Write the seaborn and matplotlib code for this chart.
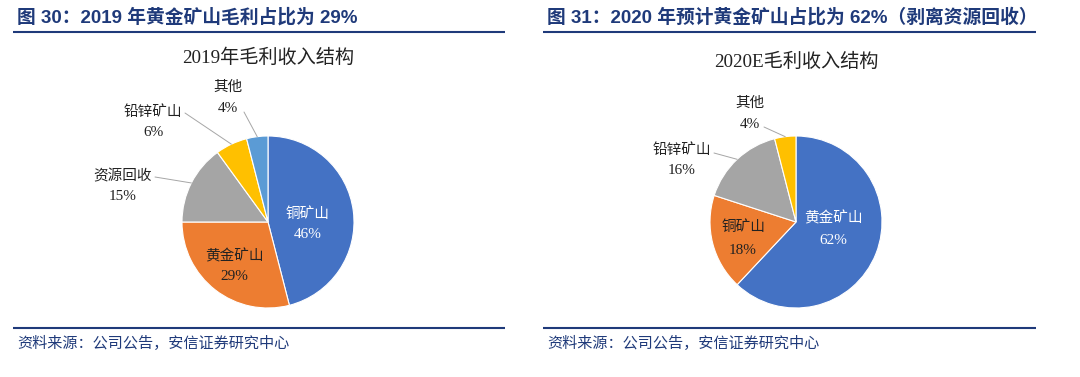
import numpy as np
import matplotlib
matplotlib.use("Agg")
import matplotlib.pyplot as plt
import seaborn as sns

sns.set_theme(style="white")
plt.rcParams['font.family'] = ['Noto Sans CJK SC', 'DejaVu Sans']

# ---- data ----
left_labels = ["铜矿山", "黄金矿山", "资源回收", "铅锌矿山", "其他"]
left_values = [46, 29, 15, 6, 4]
right_labels = ["黄金矿山", "铜矿山", "铅锌矿山", "其他"]
right_values = [62, 18, 16, 4]

header_left = "图 30：2019 年黄金矿山毛利占比为 29%"
header_right = "图 31：2020 年预计黄金矿山占比为 62%（剥离资源回收）"
title_left = "2019年毛利收入结构"
title_right = "2020E毛利收入结构"
source = "资料来源：公司公告，安信证券研究中心"

pal = ["#4472C4", "#ED7D31", "#A5A5A5", "#FFC000", "#5B9BD5"]
navy = "#1F3A7A"

W, H = 1080, 377
fig = plt.figure(figsize=(W / 100, H / 100), dpi=100)
ax = fig.add_axes([0, 0, 1, 1])


def Y(py):
    return H - py


# ---- headers / rules / sources ----
for x0, x1, head in [(13, 505, header_left), (543, 1036, header_right)]:
    ax.text(x0 + 4, Y(17), head, fontsize=13.5, fontweight="bold", color=navy,
            ha="left", va="center", family=["Liberation Sans", "Noto Sans CJK SC"])
    ax.plot([x0, x1], [Y(32), Y(32)], color=navy, lw=1.5, solid_capstyle="butt")
    ax.plot([x0, x1], [Y(328), Y(328)], color=navy, lw=1.5, solid_capstyle="butt")
    ax.text(x0 + 4, Y(343), source, fontsize=10.9, color=navy, style="italic",
            ha="left", va="center")


def draw_pie(values, labels, colors, cx, cy, r, title, tx, ty, lab_pos, leaders, inside_white):
    wedges, _ = ax.pie(values, colors=colors, startangle=90, counterclock=False,
                       center=(cx, Y(cy)), radius=r, frame=True,
                       wedgeprops=dict(edgecolor="white", linewidth=0.8))
    ax.text(tx, Y(ty), title, fontsize=13.8, color="#222222", ha="center", va="center",
            family=["Liberation Serif", "Noto Sans CJK SC"])
    for i, (lab, v) in enumerate(zip(labels, values)):
        (lx, ly1, ly2) = lab_pos[i]
        c = "white" if i in inside_white else "#222222"
        ax.text(lx, Y(ly1), lab, fontsize=10.5, color=c, ha="center", va="center")
        ax.text(lx, Y(ly2), f"{v}%", fontsize=11, color=c, ha="center", va="center",
                family=["Liberation Serif"])
        if i in leaders:
            w = wedges[i]
            mid = np.deg2rad((w.theta1 + w.theta2) / 2)
            ex, ey = cx + r * np.cos(mid), Y(cy) + r * np.sin(mid)
            sx, sy = leaders[i]
            ax.plot([sx, ex], [Y(sy), ey], color="#A6A6A6", lw=0.7)


draw_pie(left_values, left_labels, pal, 268, 222, 86, title_left, 268, 58,
         [(308, 214, 234), (234, 256, 277), (123, 176, 197), (153, 112, 132), (228, 87, 109)],
         {2: (155, 177), 3: (185, 113), 4: (244, 112)}, {0})
draw_pie(right_values, right_labels, pal[:4], 796, 222, 86, title_right, 796, 62,
         [(833, 218, 241), (743, 227, 250), (682, 150, 171), (750, 103, 124)],
         {2: (714, 153), 3: (764, 127)}, {0})

ax.set_xlim(0, W)
ax.set_ylim(0, H)
ax.set_aspect("equal")
ax.axis("off")
fig.savefig("out.png", dpi=100, facecolor="white")
